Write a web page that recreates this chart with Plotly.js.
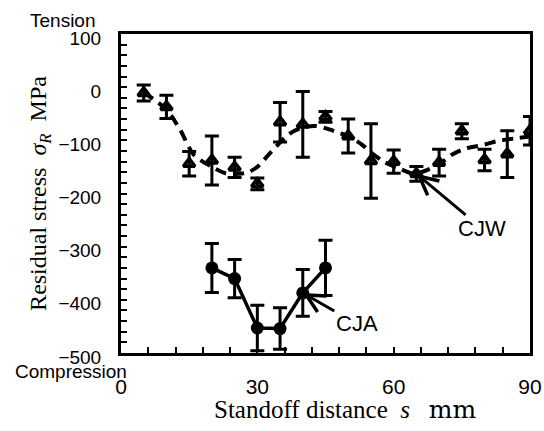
<!DOCTYPE html>
<html>
<head>
<meta charset="utf-8">
<script src="https://cdn.plot.ly/plotly-3.0.1.min.js"></script>
<style>html,body{margin:0;padding:0;background:#fff;}#chart{width:544px;height:431px;}</style>
</head>
<body>
<div id="chart"></div>
<script>
// CJW series (open triangles, dashed trend)
var cjwS   = [5, 10, 15, 20, 25, 30, 35, 40, 45, 50, 55, 60, 65, 70, 75, 80, 85, 90];
var cjwVal = [-11, -37, -144, -138, -151, -182, -66, -70, -56, -92, -139, -140, -163, -142, -83, -137, -126, -82];
var cjwErr = [15, 22, 23, 46, 19, 11, 37, 62, 10, 32, 70, 22, 14, 25, 14, 20, 44, 27];

// CJW dashed trend curve
var trendS   = [5, 10, 13, 16, 20, 23, 26, 28, 30, 33, 37, 40, 43, 46, 48, 50, 53, 55, 58, 61, 64, 66, 70, 73, 76, 80, 83, 87, 90];
var trendVal = [-10, -42, -80, -127, -150, -162, -163, -160, -150, -122, -88, -76, -73, -80, -86, -92, -108, -123, -141, -152, -162, -160, -145, -126, -115, -108, -101, -96, -93];

// CJA series (filled circles, solid line)
var cjaS   = [20, 25, 30, 35, 40, 45];
var cjaVal = [-340, -360, -453, -454, -387, -340];
var cjaErr = [46, 36, 43, 39, 44, 52];

// tick labels
var xTickVals = [0, 30, 60, 90];
var yTickVals = [100, 0, -100, -200, -300, -400, -500];

var sans = 'Liberation Sans, Arial, sans-serif';
var serif = 'Liberation Serif, Times New Roman, serif';

var traces = [
  {
    x: trendS, y: trendVal, type: 'scatter', mode: 'lines',
    line: {color: '#000', width: 4, dash: '11px,7px', shape: 'spline', smoothing: 0.8},
    hoverinfo: 'skip', showlegend: false
  },
  {
    x: cjwS, y: cjwVal, type: 'scatter', mode: 'markers',
    marker: {symbol: 'triangle-up-open', size: 10, color: '#000', line: {color: '#000', width: 3.6}},
    error_y: {type: 'data', array: cjwErr, visible: true, color: '#000', thickness: 3, width: 7},
    showlegend: false
  },
  {
    x: cjaS, y: cjaVal, type: 'scatter', mode: 'lines+markers',
    line: {color: '#000', width: 3.5},
    marker: {symbol: 'circle', size: 13, color: '#000'},
    error_y: {type: 'data', array: cjaErr, visible: true, color: '#000', thickness: 3, width: 7},
    showlegend: false
  }
];

var layout = {
  width: 544, height: 431,
  margin: {l: 121, r: 14, t: 34, b: 78, pad: 0},
  paper_bgcolor: '#fff', plot_bgcolor: '#fff',
  showlegend: false,
  xaxis: {
    range: [0, 90], tickvals: xTickVals, ticktext: xTickVals.map(String),
    ticks: 'inside', ticklen: 6, tickwidth: 2, tickcolor: '#000',
    minor: {dtick: 6, tick0: 0, ticks: 'inside', ticklen: 6, tickwidth: 2, tickcolor: '#000', showgrid: false},
    showline: true, linecolor: '#000', linewidth: 3, mirror: true,
    showgrid: false, zeroline: false,
    tickfont: {family: sans, size: 21, color: '#000'},
    ticklabelstandoff: 13
  },
  yaxis: {
    range: [-500, 100], tickvals: yTickVals, ticktext: yTickVals.map(function(v){return v < 0 ? '\u2212' + Math.abs(v) : String(v);}),
    ticks: 'inside', ticklen: 6, tickwidth: 2, tickcolor: '#000',
    minor: {dtick: 20, tick0: 0, ticks: 'inside', ticklen: 6, tickwidth: 2, tickcolor: '#000', showgrid: false},
    showline: true, linecolor: '#000', linewidth: 3, mirror: true,
    showgrid: false, zeroline: false,
    tickfont: {family: sans, size: 19, color: '#000'},
    ticklabelstandoff: 13, ticklabelshift: 4,
    title: {
      text: 'Residual stress\u00a0\u00a0<i>\u03c3<sub>R</sub></i>\u00a0\u00a0MPa',
      font: {family: serif, size: 24, color: '#000'},
      standoff: 6
    }
  },
  annotations: [
    {xref: 'paper', yref: 'paper', x: 0.548, y: -0.176, xanchor: 'center', yanchor: 'middle', showarrow: false,
     text: 'Standoff distance\u00a0\u00a0<i>s</i>\u00a0\u00a0\u00a0<span style="font-family:DejaVu Serif">mm</span>',
     font: {family: serif, size: 25, color: '#000'}},
    {xref: 'paper', yref: 'paper', x: -0.1418, y: 1.041, xanchor: 'center', yanchor: 'middle', showarrow: false,
     text: 'Tension', font: {family: sans, size: 19, color: '#000'}},
    {xref: 'paper', yref: 'paper', x: -0.1222, y: -0.0569, xanchor: 'center', yanchor: 'middle', showarrow: false,
     text: 'Compression', font: {family: sans, size: 19, color: '#000'}},
    {xref: 'x', yref: 'y', x: cjwS[12], y: cjwVal[12], ax: 66, ay: 55, text: 'CJW',
     showarrow: true, arrowhead: 5, arrowsize: 1.2, arrowwidth: 3, arrowcolor: '#000', standoff: 0,
     font: {family: sans, size: 22, color: '#000'}},
    {xref: 'x', yref: 'y', x: cjaS[4], y: cjaVal[4], ax: 54, ay: 31, text: 'CJA',
     showarrow: true, arrowhead: 5, arrowsize: 1.2, arrowwidth: 3, arrowcolor: '#000', standoff: 0,
     font: {family: sans, size: 22, color: '#000'}}
  ]
};

Plotly.newPlot('chart', traces, layout, {staticPlot: true, displayModeBar: false});
</script>
</body>
</html>
